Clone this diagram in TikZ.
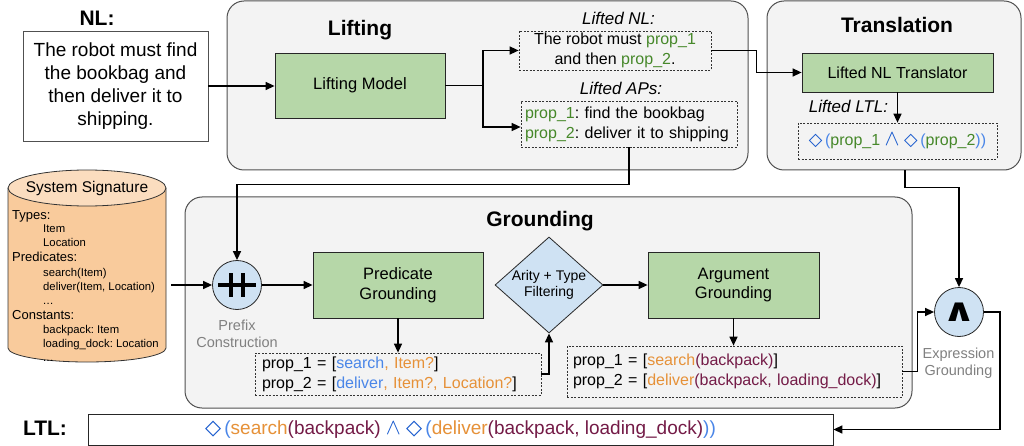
\documentclass[tikz,border=0pt]{standalone}
\usepackage{fontspec}
\usepackage{graphicx}
\setmainfont{Liberation Sans}
\newfontfamily\dejavu{DejaVu Sans}
\usetikzlibrary{arrows.meta,shapes.geometric,calc}
\definecolor{grpfill}{HTML}{F3F3F3}
\definecolor{grpborder}{HTML}{505050}
\definecolor{boxgreen}{HTML}{B6D7A8}
\definecolor{nodeblue}{HTML}{CFE2F3}
\definecolor{peach}{HTML}{F9CB9C}
\definecolor{peachlight}{HTML}{FBDDBF}
\definecolor{pgreen}{HTML}{46882A}
\definecolor{lblue}{HTML}{4A86E8}
\definecolor{dblue}{HTML}{1155CC}
\definecolor{orng}{HTML}{E69138}
\definecolor{maroon}{HTML}{741B47}
\definecolor{graytxt}{HTML}{808080}
\newcommand\evF{{\dejavu\fontsize{1.1em}{1em}\selectfont ◇}}
\newcommand\evAnd{\scalebox{1.3}{\ensuremath{\wedge}}}
\newcommand\sigdots{.\kern0.3pt.\kern0.3pt.}
\frenchspacing
\begin{document}
\begin{tikzpicture}[x=1pt,y=-1pt,
  grp/.style={draw=grpborder, fill=grpfill, rounded corners=17pt, line width=1pt, inner sep=0},
  gbox/.style={draw=black!85, fill=boxgreen, line width=0.8pt, inner sep=0, align=center, font=\fontsize{16.5}{19.5}\selectfont},
  dbox/.style={draw=black!80, dash pattern=on 2pt off 1.5pt, line width=0.7pt, inner sep=0},
  ttl/.style={font=\fontsize{21}{24}\selectfont\bfseries, anchor=base, inner sep=0},
  lbl/.style={font=\fontsize{17}{20}\selectfont\itshape, anchor=base, inner sep=0},
  gtxt/.style={font=\fontsize{14.5}{17}\selectfont, text=graytxt, align=center, anchor=north, inner sep=0},
  circ/.style={circle, draw=black!85, fill=nodeblue, line width=0.8pt, minimum size=49pt, inner sep=0},
  conn/.style={line width=1.4pt},
  arr/.style={conn, -{Triangle[length=9pt,width=8pt]}},
  sighead/.style={font=\fontsize{13}{14}\selectfont, anchor=base west, inner sep=0},
  sigitem/.style={font=\fontsize{11.3}{14}\selectfont, anchor=base west, inner sep=0}
]
\useasboundingbox (0,0) rectangle (1024,446);

% ---------- groups ----------
\node[grp, minimum width=521pt, minimum height=169pt] (lg) at (487.5,85.5) {};
\node[grp, minimum width=254pt, minimum height=169pt] (tg) at (894,85.5) {};
\node[grp, minimum width=727pt, minimum height=211pt] (gg) at (548.5,302.5) {};

\node[ttl] (lgt) at (360,36) {Lifting};
\node[ttl] (tgt) at (897,33) {Translation};
\node[ttl] (ggt) at (540,226) {Grounding};

% ---------- NL ----------
\node[ttl] (nlt) at (97,26) {NL:};
\node[draw=grpborder, fill=white, line width=0.8pt, minimum width=185pt, minimum height=110pt, inner sep=0, align=center,
      font=\fontsize{19}{22.8}\selectfont] (nl) at (115.5,86)
  {The robot must find\\the bookbag and\\then deliver it to\\shipping.};

% ---------- Lifting ----------
\node[gbox, minimum width=170pt, minimum height=65pt] (lm) at (360,85.5) {Lifting Model};
\node[lbl] (lnlt) at (618.5,25) {Lifted NL:};
\node[dbox, minimum width=192pt, minimum height=39pt, align=center, font=\fontsize{16}{20}\selectfont] (lnl) at (615,50.5)
  {The robot must \textcolor{pgreen}{prop\_1}\\and then \textcolor{pgreen}{prop\_2}.};
\node[lbl] (lapt) at (621,94.5) {Lifted APs:};
\node[dbox, minimum width=216pt, minimum height=46pt, inner xsep=4pt, text width=208pt, align=left, font=\fontsize{16}{20}\selectfont] (lap) at (629,124)
  {\textcolor{pgreen}{prop\_1}: find the bookbag\\\textcolor{pgreen}{prop\_2}: deliver it to shipping};

% ---------- Translation ----------
\node[gbox, minimum width=191pt, minimum height=39pt, font=\fontsize{16}{19}\selectfont] (tr) at (897.5,72.5) {Lifted NL Translator};
\node[lbl] (lltlt) at (848.5,112.5) {Lifted LTL:};
\node[dbox, minimum width=199pt, minimum height=36pt, font=\fontsize{16}{19}\selectfont] (lltl) at (897.5,141)
  {\textcolor{dblue}{\evF}\,\textcolor{lblue}{(}\textcolor{pgreen}{prop\_1} \textcolor{dblue}{\evAnd} \textcolor{dblue}{\evF}\,\textcolor{lblue}{(}\textcolor{pgreen}{prop\_2}\textcolor{lblue}{))}};

% ---------- System signature (cylinder) ----------
\path[draw=black!80, fill=peach, line width=0.8pt] (8,188) -- (8,348) arc[start angle=180, end angle=0, x radius=79, y radius=14] -- (166,188);
\draw[draw=black!80, fill=peachlight, line width=0.8pt] (87,188) ellipse[x radius=79, y radius=18];
\node[inner sep=0, minimum width=158pt, minimum height=192pt] (sig) at (87,266) {};
\node[font=\fontsize{15.5}{18}\selectfont, inner sep=0] (sigt) at (87,188) {System Signature};
\foreach \yy/\txt [count=\i] in {219.5/Types:, 261.5/Predicates:, 319/Constants:}
  \node[sighead] (sh\i) at (12,\yy) {\txt};
\foreach \yy/\txt [count=\i] in {233/Item, 247/Location, 276/search(Item), 290/{deliver(Item, Location)}, 304/\sigdots, 333/backpack: Item, 347/loading\_dock: Location, 361/\sigdots}
  \node[sigitem] (si\i) at (43,\yy) {\txt};

% ---------- Grounding ----------
\node[circ] (pc) at (237,285) {};
\draw[line width=3.6pt] ([xshift=-19pt]pc.center) -- ([xshift=19pt]pc.center);
\draw[line width=3.6pt] ([xshift=-6pt,yshift=12pt]pc.center) -- ([xshift=-6pt,yshift=-12pt]pc.center);
\draw[line width=3.6pt] ([xshift=6pt,yshift=12pt]pc.center) -- ([xshift=6pt,yshift=-12pt]pc.center);
\node[gtxt] (pct) at (237,320) {Prefix\\Construction};

\node[gbox, minimum width=170pt, minimum height=66pt] (pg) at (398,285) {Predicate\\Grounding};
\node[diamond, draw=black!85, fill=nodeblue, line width=0.8pt, minimum width=108pt, minimum height=96pt, inner sep=0] (df) at (549,285) {};
\node[align=center, inner sep=0, font=\fontsize{14}{16.5}\selectfont] (dft) at (df.center) {Arity + Type\\Filtering};
\node[gbox, minimum width=171pt, minimum height=66pt] (ag) at (733.5,285) {Argument\\Grounding};

\node[dbox, minimum width=286pt, minimum height=42pt, inner xsep=7pt, text width=272pt, align=left, font=\fontsize{16}{20}\selectfont] (db1) at (398,374)
  {prop\_1 = [\textcolor{lblue}{search}\textcolor{orng}{, Item?}]\\prop\_2 = [\textcolor{lblue}{deliver}\textcolor{orng}{, Item?, Location?}]};
\node[dbox, minimum width=335pt, minimum height=51pt, inner xsep=6pt, text width=323pt, align=left, font=\fontsize{16}{20}\selectfont] (db2) at (734.5,371.5)
  {prop\_1 = [\textcolor{orng}{search}\textcolor{maroon}{(backpack)}]\\prop\_2 = [\textcolor{orng}{deliver}\textcolor{maroon}{(backpack, loading\_dock)}]};

\node[circ] (and) at (959,312) {};
\node[inner sep=0, font=\fontsize{32}{32}\selectfont] (andt) at (and.center) {\scalebox{1.3}[1]{\dejavu\bfseries ∧}};
\node[gtxt] (andl) at (958.5,348) {Expression\\Grounding};

% ---------- LTL ----------
\node[ttl] (ltlt) at (45,435) {LTL:};
\node[draw=black!85, fill=white, line width=0.8pt, minimum width=745pt, minimum height=31pt, inner sep=0, font=\fontsize{19}{21}\selectfont] (ltl) at (460.5,429.5)
  {\textcolor{dblue}{\evF}\,\textcolor{lblue}{(}\textcolor{orng}{search}\textcolor{maroon}{(backpack)} \textcolor{dblue}{\evAnd} \textcolor{dblue}{\evF}\,\textcolor{lblue}{(}\textcolor{orng}{deliver}\textcolor{maroon}{(backpack, loading\_dock)}\textcolor{lblue}{))}};

% ---------- connectors ----------
\draw[arr] (nl.east) -- (nl.east -| lm.west);
\draw[conn] (lm.east) -- (483,85.5) coordinate (br);
\draw[arr] (br) |- (lnl.west);
\draw[arr] (br) |- ([yshift=-3pt]lap.west);
\draw[arr] (lnl.east) -- ++(45,0) |- (tr.west);
\draw[arr] (tr.south) -- (tr.south |- lltl.north);
\draw[arr] (lap.south) -- ++(0,37) -| (pc.north);
\draw[arr, shorten <=5pt] (sig.east |- pc.west) -- (pc.west);
\draw[arr] (pc.east) -- (pg.west);
\draw[arr] (pg.south) -- (db1.north);
\draw[arr] (db1.east) -| (df.south);
\draw[arr] (df.east) -- (ag.west);
\draw[arr] (ag.south) -- (ag.south |- db2.north);
\draw[arr] (db2.east) -- ++(15,0) |- (and.west);
\draw[arr] ([xshift=11pt]tg.south) -- ++(0,17) -| (and.north);
\draw[arr] (and.east) -- ++(16,0) |- (ltl.east);
\end{tikzpicture}
\end{document}
